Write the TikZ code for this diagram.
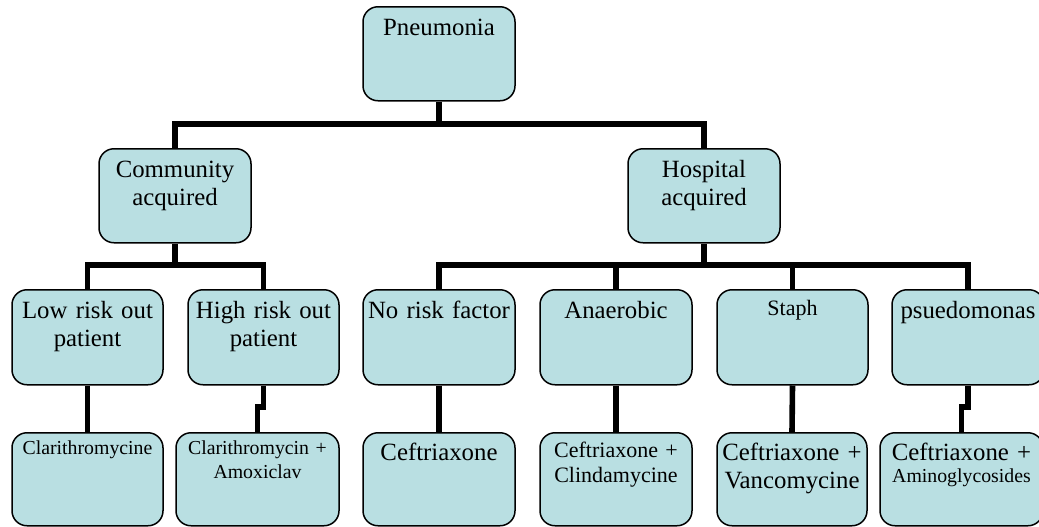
\documentclass[tikz,border=0pt]{standalone}
\usepackage{fontspec}
\setmainfont{Liberation Serif}
\usetikzlibrary{calc}

\definecolor{boxblue}{RGB}{185,223,226}

\tikzset{
  box/.style={draw, line width=0.75pt, fill=boxblue, rounded corners=7.5pt,
    inner sep=0pt, align=center, anchor=north,
    font=\fontsize{12.4}{14}\selectfont},
  conn/.style={line width=2.8pt, black}
}

\begin{document}
\begin{tikzpicture}[x=0.5pt, y=-0.5pt]
          \useasboundingbox (0,0) rectangle (1039,526);

          % top and second level
          \node[box, text width=76pt, text height=14.5pt, text depth=32.5pt] (pneu) at (439,6) {Pneumonia};
          \node[box, text width=76pt, text height=14.5pt, text depth=32.5pt] (comm) at (175,148) {Community\\acquired};
          \node[box, text width=76pt, text height=14.5pt, text depth=32.5pt] (hosp) at (704,148) {Hospital\\acquired};

          % third level
          \node[box, text width=75.5pt, text height=14.5pt, text depth=33pt] (low) at (87.5,289) {Low risk out\\patient};
          \node[box, text width=75.5pt, text height=14.5pt, text depth=33pt] (high) at (263.5,289) {High risk out\\patient};
          \node[box, text width=76pt, text height=14.5pt, text depth=33pt] (norisk) at (439,289) {No risk factor};
          \node[box, text width=76pt, text height=14.5pt, text depth=33pt] (anaer) at (616,289) {Anaerobic};
          \node[box, text width=75.5pt, text height=13pt, text depth=34.5pt, font=\fontsize{11}{13}\selectfont] (staph) at (792.5,289) {Staph};
          \node[box, text width=76pt, text height=14.5pt, text depth=33pt] (psued) at (968,289) {psuedomonas};

          % drugs
          \node[box, text width=75.5pt, text height=11pt, text depth=35.5pt, font=\fontsize{9.9}{12}\selectfont] (clari) at (87.5,432) {Clarithromycine};
          \node[box, text width=81.5pt, text height=11pt, text depth=35.5pt, font=\fontsize{9.9}{12}\selectfont] (clamox) at (257.5,432) {Clarithromycin +\\Amoxiclav};
          \node[box, text width=76pt, text height=14pt, text depth=32.5pt] (ceft) at (439,432) {Ceftriaxone};
          \node[box, text width=76pt, text height=12.5pt, text depth=34pt, font=\fontsize{11}{12.5}\selectfont] (ceclin) at (616,432) {Ceftriaxone +\\Clindamycine};
          \node[box, text width=75pt, text height=14pt, text depth=32.5pt] (cevan) at (792,432) {Ceftriaxone +\\Vancomycine};
          \node[box, text width=81.5pt, text height=14pt, text depth=32.5pt, font=\fontsize{12.4}{11}\selectfont] (ceamin) at (961.5,432) {Ceftriaxone +\\{\fontsize{9.9}{11}\selectfont Aminoglycosides}};

          % bus lines
          \coordinate (bus0) at (0,124);
          \coordinate (bus1) at (0,265);
          \coordinate (jog) at (0,407);

          \draw[conn] (comm.north) |- (pneu.south |- bus0) -| (hosp.north);
          \draw[conn] (pneu.south) -- (pneu.south |- bus0);

          \draw[conn] (low.north) |- (comm.south |- bus1) -| (high.north);
          \draw[conn] (comm.south) -- (comm.south |- bus1);
          \draw[conn] (norisk.north) |- (hosp.south |- bus1) -| (psued.north);
          \draw[conn] (hosp.south) -- (hosp.south |- bus1);
          \draw[conn] (anaer.north) -- (anaer.north |- bus1);
          \draw[conn] (staph.north) -- (staph.north |- bus1);

          \draw[conn] (low.south) -- (clari.north);
          \draw[conn] (high.south) -- (high.south |- jog) -| (clamox.north);
          \draw[conn] (norisk.south) -- (ceft.north);
          \draw[conn] (anaer.south) -- (ceclin.north);
          \draw[conn] (staph.south) -- (cevan.north);
          \draw[conn] (psued.south) -- (psued.south |- jog) -| (ceamin.north);
        \end{tikzpicture}
\end{document}
